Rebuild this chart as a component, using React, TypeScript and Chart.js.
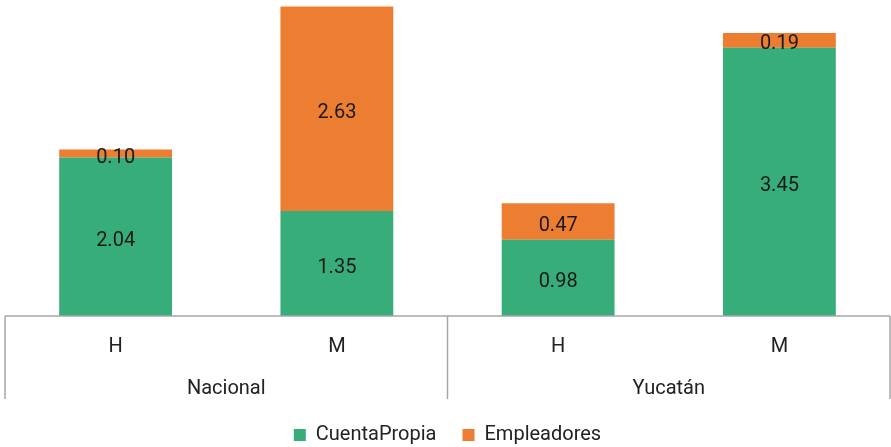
import React, { useEffect, useRef } from "react";
import { Chart, registerables } from "chart.js";

Chart.register(...registerables);

const categories = ["H", "M", "H", "M"];
const groups = ["Nacional", "Yucatán"];
const cuentaPropia = [2.04, 1.35, 0.98, 3.45];
const empleadores = [0.1, 2.63, 0.47, 0.19];

const FONT = "Roboto, 'Noto Sans', sans-serif";

const frameAndLabels = {
  id: "frameAndLabels",
  afterDatasetsDraw(chart: any) {
    const ctx = chart.ctx;
    ctx.save();
    ctx.font = `20px ${FONT}`;
    ctx.fillStyle = "#1a1a1a";
    ctx.textAlign = "center";
    ctx.textBaseline = "middle";
    chart.data.datasets.forEach((ds: any, di: number) => {
      const meta = chart.getDatasetMeta(di);
      meta.data.forEach((el: any, i: number) => {
        const v = ds.data[i];
        const y = (el.y + el.base) / 2;
        ctx.fillText(v.toFixed(2), el.x, y + 4);
      });
    });
    ctx.restore();
  },
  afterDraw(chart: any) {
    const ctx = chart.ctx;
    const area = chart.chartArea;
    const x2 = chart.scales.x2;
    const bottom = x2.bottom;
    ctx.save();
    ctx.strokeStyle = "#a6a6a6";
    ctx.lineWidth = 1.5;
    ctx.beginPath();
    ctx.moveTo(area.left, area.bottom);
    ctx.lineTo(area.right, area.bottom);
    const n = groups.length;
    const w = (area.right - area.left) / n;
    for (let i = 0; i <= n; i++) {
      const x = area.left + w * i;
      ctx.moveTo(x, area.bottom);
      ctx.lineTo(x, bottom);
    }
    ctx.stroke();
    ctx.restore();
  },
};

export default function App() {
  const ref = useRef<HTMLCanvasElement | null>(null);
  useEffect(() => {
    document.body.style.margin = "0";
    const chart = new Chart(ref.current as HTMLCanvasElement, {
      type: "bar",
      data: {
        labels: categories,
        datasets: [
          {
            label: "CuentaPropia",
            data: cuentaPropia,
            backgroundColor: "#37ad7a",
            borderWidth: 0,
          },
          {
            label: "Empleadores",
            data: empleadores,
            backgroundColor: "#ed7d31",
            borderWidth: 0,
          },
        ],
      },
      options: {
        animation: false,
        responsive: false,
        layout: { padding: { left: 5, right: 1, top: 5, bottom: -8 } },
        datasets: { bar: { categoryPercentage: 1, barPercentage: 0.51 } },
        scales: {
          x: {
            stacked: true,
            grid: { display: false, drawTicks: false },
            border: { display: false },
            ticks: { font: { family: FONT, size: 20 }, color: "#222", padding: 19 },
            afterFit: (scale: any) => {
              scale.height = 41;
            },
          },
          x2: {
            type: "category",
            labels: groups,
            offset: true,
            position: "bottom",
            grid: { display: false, drawTicks: false },
            border: { display: false },
            ticks: { font: { family: FONT, size: 20 }, color: "#222", padding: 20 },
            afterFit: (scale: any) => {
              scale.height = 42;
            },
          },
          y: {
            stacked: true,
            display: false,
            min: 0,
            max: 4,
          },
        },
        plugins: {
          tooltip: { enabled: false },
          legend: {
            position: "bottom",
            labels: {
              font: { family: FONT, size: 20 },
              color: "#222",
              boxWidth: 12,
              boxHeight: 12,
              padding: 26,
            },
          },
        },
      },
      plugins: [frameAndLabels],
    });
    return () => chart.destroy();
  }, []);
  return <canvas ref={ref} width={891} height={447} style={{ display: "block" }} />;
}
